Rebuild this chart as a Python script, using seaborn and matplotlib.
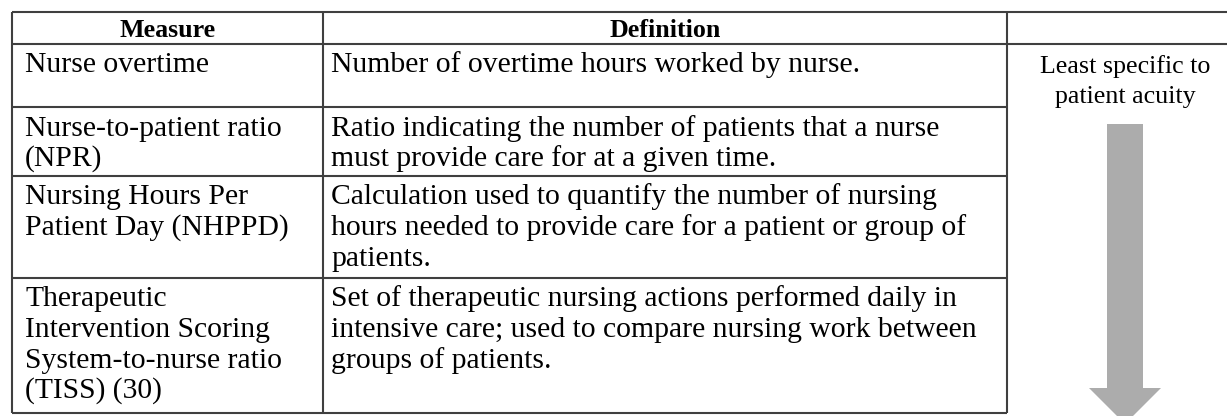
import matplotlib
matplotlib.use("Agg")
import matplotlib.pyplot as plt
from matplotlib.patches import FancyArrow
import seaborn as sns

# ---- table content ----
headers = ["Measure", "Definition"]
measures = [
    ["Nurse overtime"],
    ["Nurse-to-patient ratio", "(NPR)"],
    ["Nursing Hours Per", "Patient Day (NHPPD)"],
    ["Therapeutic", "Intervention Scoring", "System-to-nurse ratio", "(TISS) (30)"],
]
definitions = [
    ["Number of overtime hours worked by nurse."],
    ["Ratio indicating the number of patients that a nurse",
     "must provide care for at a given time."],
    ["Calculation used to quantify the number of nursing",
     "hours needed to provide care for a patient or group of",
     "patients."],
    ["Set of therapeutic nursing actions performed daily in",
     "intensive care; used to compare nursing work between",
     "groups of patients."],
]
side_note = ["Least specific to", "patient acuity"]

# ---- layout (pixels) ----
W, H = 1227, 416
col_edges = [12, 323, 1007, W]
row_edges = [12, 44, 107, 176, 278, 413]
first_base = 28.5
line_gap = 30.5
fs_body = 21.3
fs_head = 18.7
line_col = "#3f3f3f"

sns.set_theme(style="white")
plt.rcParams["font.family"] = ["Liberation Serif", "DejaVu Serif"]

fig = plt.figure(figsize=(W / 100, H / 100), dpi=100)
ax = fig.add_axes([0, 0, 1, 1])
ax.set_xlim(0, W)
ax.set_ylim(H, 0)
ax.axis("off")

# grid lines
ax.hlines(row_edges[:2], col_edges[0], W, color=line_col, lw=1.5)
ax.hlines(row_edges[2:], col_edges[0], col_edges[2], color=line_col, lw=1.5)
ax.vlines(col_edges[:3], row_edges[0], row_edges[-1], color=line_col, lw=1.5)

# header
for i, h in enumerate(headers):
    cx = (col_edges[i] + col_edges[i + 1]) / 2
    ax.text(cx, 37, h, ha="center", va="baseline", fontsize=fs_head,
            fontweight="bold", color="black")

# body
for r in range(len(measures)):
    top = row_edges[r + 1]
    for k, line in enumerate(measures[r]):
        ax.text(col_edges[0] + 13, top + first_base + k * line_gap, line,
                ha="left", va="baseline", fontsize=fs_body, color="black")
    for k, line in enumerate(definitions[r]):
        ax.text(col_edges[1] + 8, top + first_base + k * line_gap, line,
                ha="left", va="baseline", fontsize=fs_body, color="black")

# side note + arrow
cx3 = 1125
for k, line in enumerate(side_note):
    ax.text(cx3, row_edges[1] + first_base + k * line_gap, line,
            ha="center", va="baseline", fontsize=fs_head, color="black")

arrow = FancyArrow(cx3, 124, 0, 300, width=36, head_width=72, head_length=36,
                   length_includes_head=True, color="#acacac", lw=0)
ax.add_patch(arrow)

fig.savefig("out.png", dpi=100, facecolor="white")
